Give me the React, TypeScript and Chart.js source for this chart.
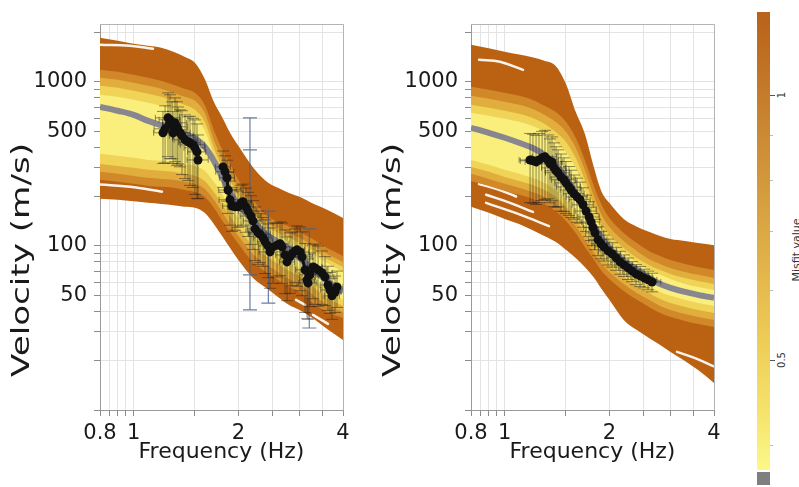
import React, { useEffect, useRef } from "react";
import { Chart, registerables } from "chart.js";

Chart.register(...registerables);

// ---------- axes ----------
const FREQ = [0.8, 0.9, 1.0, 1.1, 1.2, 1.3, 1.4, 1.5, 1.6, 1.7, 1.8, 1.9, 2.0, 2.2, 2.4, 2.6, 2.8, 3.0, 3.3, 3.6, 4.0];
const X_MIN = 0.8;
const X_MAX = 4;
const Y_MIN = 10;
const Y_MAX = 2250;
const X_TICKS = [0.8, 0.85, 0.9, 0.95, 1, 1.5, 2, 2.5, 3, 3.5, 4];
const X_LABELS = [0.8, 1, 2, 4];
const Y_TICKS = [10, 20, 30, 40, 50, 60, 70, 80, 90, 100, 200, 300, 400, 500, 600, 700, 800, 900, 1000, 2000];
const Y_LABELS = [50, 100, 500, 1000];
const X_TITLE = "Frequency (Hz)";
const Y_TITLE = "Velocity (m/s)";
const CB_TITLE = "Misfit value";
const CB_MIN = 0.375;
const CB_MAX = 1.243;
const CB_LABELS = [0.5, 1];
const CB_MINOR = [0.4, 0.6, 0.7, 0.8, 0.9];

// ---------- colours ----------
const C_BROWN = "#bb6212";
const C_ORANGE = "#d08828";
const C_GOLD = "#e1ad3d";
const C_YELLOW = "#efd457";
const C_LIGHT = "#faee7c";
const C_MEDIAN = "#88878f";

// ---------- left panel ----------
const L_EDGE_HI = [1854, 1778, 1705, 1658, 1611, 1524, 1420, 1305, 1043, 755, 603, 482, 407, 303, 249, 226, 210, 199, 180, 166, 148];
const L_ORANGE_HI = [1184, 1151, 1103, 1058, 1014, 959, 907, 857, 724, 509, 385, 312, 253, 191, 155, 140, 131, 122, 109, 97.2, 86.9];
const L_GOLD_HI = [1058, 1028, 986, 945, 907, 857, 810, 766, 647, 443, 334, 271, 226, 173, 142, 129, 120, 112, 100, 89.4, 79.9];
const L_YELLOW_HI = [945, 919, 881, 845, 810, 766, 724, 675, 570, 396, 299, 246, 205, 161, 132, 120, 112, 104, 93.2, 83.3, 74.5];
const L_LIGHT_HI = [833, 810, 777, 745, 714, 675, 638, 603, 509, 359, 279, 229, 191, 150, 125, 113, 106, 97.2, 88.1, 78.8, 69.4];
const L_LIGHT_LO = [364, 354, 344, 334, 330, 325, 316, 307, 287, 246, 205, 173, 148, 115, 100, 89.4, 79.9, 73.4, 62.1, 53.9, 46.9];
const L_YELLOW_LO = [316, 307, 299, 291, 287, 283, 275, 267, 249, 213, 178, 150, 129, 100, 86.9, 77.7, 70.4, 65.7, 55.5, 48.2, 43.1];
const L_GOLD_LO = [283, 275, 267, 260, 256, 253, 246, 239, 223, 191, 159, 134, 115, 89.4, 77.7, 69.4, 62.9, 58.7, 49.6, 43.7, 39.6];
const L_ORANGE_LO = [253, 246, 239, 232, 229, 226, 219, 213, 199, 171, 142, 120, 103, 79.9, 69.4, 62.1, 56.2, 52.4, 44.3, 39.6, 36.4];
const L_EDGE_LO = [194, 191, 187, 183, 180, 177, 173, 171, 159, 136, 114, 96, 82, 64, 55.5, 48.9, 43.7, 40.7, 35.9, 31.2, 26.7];
const L_MEDIAN = [704, 666, 629, 578, 543, 509, 482, 452, 402, 330, 260, 210, 178, 144, 118, 106, 96, 84.5, 71.4, 61.2, 52.4];

const L_STREAK_A_F = [0.8, 0.976, 1.136];
const L_STREAK_A_V = [1681, 1658, 1589];
const L_STREAK_B_F = [0.8, 0.976, 1.206];
const L_STREAK_B_V = [237, 229, 214];
const L_STREAK_C_F = [2.931, 3.111];
const L_STREAK_C_V = [46.9, 43.7];
const L_STREAK_D_F = [3.28, 3.621];
const L_STREAK_D_V = [38, 33.5];

const L_OBS1_F = [1.214, 1.231, 1.255, 1.272, 1.289, 1.298, 1.315, 1.332, 1.341, 1.359, 1.377, 1.405, 1.433, 1.452, 1.481, 1.5, 1.521, 1.531];
const L_OBS1_V = [489, 517, 603, 587, 547, 489, 562, 532, 509, 489, 469, 443, 431, 425, 413, 396, 374, 334];
const L_OBS1_ERR = [0.35, 0.38, 0.42, 0.42, 0.38, 0.35, 0.42, 0.42, 0.38, 0.38, 0.42, 0.42, 0.42, 0.45, 0.45, 0.48, 0.48, 0.42];
const L_OBS1_FERR = [0.06, 0.07, 0.08, 0.07, 0.06, 0.07, 0.08, 0.07, 0.06, 0.07, 0.08, 0.07, 0.06, 0.07, 0.08, 0.07, 0.06, 0.07];

const L_OBS2_F = [1.807, 1.831, 1.856, 1.868, 1.893, 1.918, 1.956, 1.996, 2.036, 2.063, 2.104, 2.133, 2.175, 2.204, 2.234, 2.279, 2.309, 2.356, 2.387, 2.435, 2.467, 2.517, 2.584, 2.636, 2.671, 2.725, 2.761, 2.817, 2.854, 2.911, 2.95, 3.01, 3.05, 3.111, 3.152, 3.173, 3.215, 3.28, 3.324, 3.391, 3.481, 3.551, 3.621, 3.67, 3.719, 3.794, 3.844];
const L_OBS2_V = [303, 283, 260, 219, 191, 175, 173, 173, 183, 186, 173, 163, 152, 142, 127, 120, 118, 112, 106, 100, 91.9, 98.6, 101, 103, 98.6, 88.1, 79.9, 85.7, 89.4, 93.2, 94.6, 91.9, 85.7, 71.4, 62.1, 59.5, 66.6, 74.5, 73.4, 71.4, 68.5, 64.7, 57.8, 53.9, 49.6, 52.4, 56.2];
const L_OBS2_ERR = [0.25, 0.25, 0.28, 0.28, 0.3, 0.3, 0.28, 0.25, 0.28, 0.28, 0.3, 0.3, 0.33, 0.33, 0.36, 0.36, 0.33, 0.33, 0.36, 0.36, 0.4, 0.4, 0.36, 0.36, 0.4, 0.42, 0.42, 0.4, 0.36, 0.36, 0.4, 0.42, 0.42, 0.45, 0.42, 0.4, 0.36, 0.36, 0.4, 0.4, 0.36, 0.33, 0.3, 0.28, 0.28, 0.25, 0.25];
const L_OBS2_FERR = [0.05, 0.06, 0.05, 0.06, 0.07, 0.06, 0.05, 0.06, 0.07, 0.06, 0.05, 0.06, 0.07, 0.06, 0.05, 0.06, 0.07, 0.06, 0.05, 0.06, 0.07, 0.06, 0.05, 0.06, 0.07, 0.06, 0.05, 0.06, 0.07, 0.06, 0.05, 0.06, 0.07, 0.06, 0.05, 0.06, 0.07, 0.06, 0.05, 0.06, 0.07, 0.06, 0.05, 0.06, 0.05, 0.04, 0.04];

const L_WIDE_F = [2.16, 2.16, 2.44, 3.2];
const L_WIDE_LO = [40.7, 66.6, 44.8, 31.6];
const L_WIDE_HI = [603, 385, 163, 127];

// ---------- right panel ----------
const R_EDGE_HI = [1681, 1600, 1526, 1465, 1411, 1343, 1252, 972, 656, 482, 308, 214, 183, 146, 131, 122, 115, 110, 107, 104, 101];
const R_ORANGE_HI = [932, 894, 857, 821, 777, 714, 656, 570, 456, 334, 236, 178, 148, 120, 104, 93.2, 86.9, 82.1, 77.7, 74.5, 71.4];
const R_GOLD_HI = [821, 788, 755, 724, 685, 629, 570, 496, 396, 291, 205, 155, 131, 107, 93.2, 83.3, 77.7, 73.4, 69.4, 66.6, 63.8];
const R_YELLOW_HI = [724, 694, 666, 638, 603, 555, 496, 431, 344, 253, 180, 136, 117, 97.2, 84.5, 76.6, 71.4, 67.5, 63.8, 61.2, 58.6];
const R_LIGHT_HI = [647, 620, 595, 570, 539, 496, 431, 374, 299, 219, 159, 123, 107, 90.7, 78.8, 71.4, 66.6, 62.9, 58.6, 56.2, 53.9];
const R_LIGHT_LO = [334, 312, 291, 275, 260, 242, 219, 191, 161, 132, 112, 94.6, 84.5, 71.4, 62.9, 57.0, 52.4, 49.6, 46.9, 44.9, 43.1];
const R_YELLOW_LO = [303, 283, 263, 249, 236, 219, 199, 173, 146, 120, 101, 85.7, 76.6, 64.7, 57.0, 51.7, 47.5, 44.9, 42.5, 40.7, 39.0];
const R_GOLD_LO = [275, 256, 239, 226, 213, 199, 180, 157, 132, 109, 91.9, 77.7, 69.4, 58.6, 51.7, 46.9, 43.1, 40.7, 38.5, 36.9, 35.4];
const R_ORANGE_LO = [249, 232, 216, 205, 194, 180, 163, 142, 120, 98.6, 83.3, 70.4, 62.9, 53.2, 46.9, 42.5, 39.0, 36.9, 34.9, 33.4, 32.1];
const R_EDGE_LO = [173, 159, 146, 136, 125, 115, 106, 94.6, 84.5, 74.5, 64.7, 54.7, 46.9, 35.4, 30.7, 27.5, 24.9, 22.6, 19.9, 17.5, 14.6];
const R_MEDIAN = [524, 489, 456, 425, 396, 359, 312, 260, 210, 166, 134, 112, 97.2, 81.0, 71.4, 63.8, 58.6, 55.5, 52.4, 50.3, 48.2];

const R_STREAK_A_F = [0.844, 0.969, 1.129];
const R_STREAK_A_V = [1362, 1324, 1183];
const R_STREAK_B_F = [0.844, 0.95, 1.078];
const R_STREAK_B_V = [238, 222, 200];
const R_STREAK_C_F = [0.884, 1.036, 1.206];
const R_STREAK_C_V = [205, 183, 161];
const R_STREAK_D_F = [0.884, 1.107, 1.341];
const R_STREAK_D_V = [183, 155, 132];
const R_STREAK_E_F = [3.131, 3.528, 3.98];
const R_STREAK_E_V = [22.6, 20.7, 18.5];

const R_OBS_F = [1.183, 1.206, 1.231, 1.255, 1.281, 1.306, 1.332, 1.35, 1.368, 1.387, 1.405, 1.424, 1.452, 1.481, 1.5, 1.531, 1.552, 1.583, 1.615, 1.647, 1.68, 1.714, 1.748, 1.771, 1.795, 1.819, 1.856, 1.893, 1.93, 1.983, 2.036, 2.091, 2.147, 2.204, 2.263, 2.324, 2.387, 2.451, 2.517, 2.584, 2.653];
const R_OBS_V = [334, 330, 325, 334, 344, 349, 334, 316, 325, 299, 287, 279, 263, 253, 242, 229, 219, 208, 199, 191, 178, 163, 150, 140, 129, 120, 109, 103, 98.6, 93.2, 89.4, 84.5, 79.9, 76.6, 73.4, 70.4, 67.5, 65.7, 63.8, 62.1, 60.3];
const R_OBS_ERR = [0.45, 0.45, 0.45, 0.45, 0.45, 0.45, 0.42, 0.42, 0.42, 0.42, 0.4, 0.38, 0.38, 0.36, 0.35, 0.33, 0.32, 0.3, 0.3, 0.28, 0.27, 0.25, 0.24, 0.23, 0.22, 0.21, 0.2, 0.19, 0.18, 0.18, 0.17, 0.16, 0.16, 0.15, 0.15, 0.14, 0.14, 0.14, 0.13, 0.13, 0.13];
const R_OBS_FERR = [0.07, 0.08, 0.07, 0.08, 0.07, 0.08, 0.07, 0.08, 0.07, 0.08, 0.07, 0.08, 0.07, 0.08, 0.07, 0.08, 0.07, 0.07, 0.07, 0.07, 0.07, 0.07, 0.07, 0.06, 0.06, 0.06, 0.06, 0.06, 0.06, 0.06, 0.06, 0.06, 0.06, 0.06, 0.06, 0.06, 0.06, 0.06, 0.06, 0.06, 0.06];

// ---------- panel descriptions ----------
type Series = { f: number[]; v: number[] };
type Obs = Series & { err: number[]; ferr: number[]; wide?: { f: number[]; lo: number[]; hi: number[] } };
type Panel = {
  bands: { hi: number[]; lo: number[]; color: string }[];
  median: number[];
  streaks: Series[];
  obs: Obs[];
};

const LEFT: Panel = {
  bands: [
    { hi: L_EDGE_HI, lo: L_EDGE_LO, color: C_BROWN },
    { hi: L_ORANGE_HI, lo: L_ORANGE_LO, color: C_ORANGE },
    { hi: L_GOLD_HI, lo: L_GOLD_LO, color: C_GOLD },
    { hi: L_YELLOW_HI, lo: L_YELLOW_LO, color: C_YELLOW },
    { hi: L_LIGHT_HI, lo: L_LIGHT_LO, color: C_LIGHT },
  ],
  median: L_MEDIAN,
  streaks: [
    { f: L_STREAK_A_F, v: L_STREAK_A_V },
    { f: L_STREAK_B_F, v: L_STREAK_B_V },
    { f: L_STREAK_C_F, v: L_STREAK_C_V },
    { f: L_STREAK_D_F, v: L_STREAK_D_V },
  ],
  obs: [
    { f: L_OBS1_F, v: L_OBS1_V, err: L_OBS1_ERR, ferr: L_OBS1_FERR },
    { f: L_OBS2_F, v: L_OBS2_V, err: L_OBS2_ERR, ferr: L_OBS2_FERR, wide: { f: L_WIDE_F, lo: L_WIDE_LO, hi: L_WIDE_HI } },
  ],
};

const RIGHT: Panel = {
  bands: [
    { hi: R_EDGE_HI, lo: R_EDGE_LO, color: C_BROWN },
    { hi: R_ORANGE_HI, lo: R_ORANGE_LO, color: C_ORANGE },
    { hi: R_GOLD_HI, lo: R_GOLD_LO, color: C_GOLD },
    { hi: R_YELLOW_HI, lo: R_YELLOW_LO, color: C_YELLOW },
    { hi: R_LIGHT_HI, lo: R_LIGHT_LO, color: C_LIGHT },
  ],
  median: R_MEDIAN,
  streaks: [
    { f: R_STREAK_A_F, v: R_STREAK_A_V },
    { f: R_STREAK_B_F, v: R_STREAK_B_V },
    { f: R_STREAK_C_F, v: R_STREAK_C_V },
    { f: R_STREAK_D_F, v: R_STREAK_D_V },
    { f: R_STREAK_E_F, v: R_STREAK_E_V },
  ],
  obs: [{ f: R_OBS_F, v: R_OBS_V, err: R_OBS_ERR, ferr: R_OBS_FERR }],
};

const pts = (f: number[], v: number[]) => f.map((x, i) => ({ x, y: v[i] }));

// ---------- plugins ----------
const errorBarPlugin = {
  id: "errorBars",
  beforeDatasetDraw(chart: any, args: any) {
    const ds: any = chart.data.datasets[args.index];
    if (!ds.errRel) return;
    const { ctx, chartArea: a } = chart;
    const xs = chart.scales.x;
    const ys = chart.scales.y;
    ctx.save();
    ctx.beginPath();
    ctx.rect(a.left, a.top, a.right - a.left, a.bottom - a.top);
    ctx.clip();
    if (ds.wide) {
      ctx.strokeStyle = "rgba(70,95,135,0.8)";
      ctx.lineWidth = 1.2;
      ctx.beginPath();
      ds.wide.f.forEach((f: number, i: number) => {
        const x = xs.getPixelForValue(f);
        const yt = ys.getPixelForValue(ds.wide.hi[i]);
        const yb = ys.getPixelForValue(ds.wide.lo[i]);
        ctx.moveTo(x, yt);
        ctx.lineTo(x, yb);
        ctx.moveTo(x - 7, yt);
        ctx.lineTo(x + 7, yt);
        ctx.moveTo(x - 7, yb);
        ctx.lineTo(x + 7, yb);
      });
      ctx.stroke();
    }
    ctx.strokeStyle = "rgba(30,30,30,0.55)";
    ctx.lineWidth = 0.9;
    ctx.beginPath();
    ds.data.forEach((p: any, i: number) => {
      const x = xs.getPixelForValue(p.x);
      const y = ys.getPixelForValue(p.y);
      const r = ds.errRel[i];
      const fr = ds.errFreq[i];
      const yt = ys.getPixelForValue(p.y * (1 + r));
      const yb = ys.getPixelForValue(p.y * (1 - r));
      const xl = xs.getPixelForValue(p.x * (1 - fr));
      const xr = xs.getPixelForValue(p.x * (1 + fr));
      ctx.moveTo(x, yt);
      ctx.lineTo(x, yb);
      ctx.moveTo(x - 6, yt);
      ctx.lineTo(x + 6, yt);
      ctx.moveTo(x - 6, yb);
      ctx.lineTo(x + 6, yb);
      ctx.moveTo(xl, y);
      ctx.lineTo(xr, y);
      ctx.moveTo(xl, y - 3);
      ctx.lineTo(xl, y + 3);
      ctx.moveTo(xr, y - 3);
      ctx.lineTo(xr, y + 3);
    });
    ctx.stroke();
    ctx.restore();
  },
};

const framePlugin = {
  id: "frame",
  afterDatasetsDraw(chart: any) {
    const { ctx, chartArea: a } = chart;
    ctx.save();
    ctx.strokeStyle = "#b4b4b4";
    ctx.lineWidth = 1;
    ctx.beginPath();
    ctx.moveTo(a.left, a.top + 0.5);
    ctx.lineTo(a.right + 0.5, a.top + 0.5);
    ctx.lineTo(a.right + 0.5, a.bottom);
    ctx.stroke();
    ctx.restore();
  },
};

const yTitlePlugin = {
  id: "yTitle",
  afterDraw(chart: any) {
    const ctx = chart.ctx;
    ctx.save();
    ctx.font = '25px "DejaVu Sans"';
    const w = ctx.measureText(Y_TITLE).width;
    ctx.translate(22, 260);
    ctx.rotate(-Math.PI / 2);
    ctx.scale(234 / w, 1);
    ctx.fillStyle = "#1a1a1a";
    ctx.textAlign = "center";
    ctx.textBaseline = "middle";
    ctx.fillText(Y_TITLE, 0, 0);
    ctx.restore();
  },
};

function buildConfig(panel: Panel): any {
  const datasets: any[] = [];
  const hidden = {
    pointRadius: 0,
    pointHoverRadius: 0,
    borderWidth: 0,
    borderColor: "rgba(0,0,0,0)",
    cubicInterpolationMode: "monotone",
  };
  panel.bands.forEach((b, k) => {
    const order = 100 - k * 2;
    const hiIndex = datasets.length;
    datasets.push({ ...hidden, label: `band${k}hi`, data: pts(FREQ, b.hi), fill: hiIndex + 1, backgroundColor: b.color, order });
    datasets.push({ ...hidden, label: `band${k}lo`, data: pts(FREQ, b.lo), fill: false, order });
    if (k === 0) {
      panel.streaks.forEach((s, j) =>
        datasets.push({
          label: `streak${j}`,
          data: pts(s.f, s.v),
          borderColor: "rgba(255,255,255,0.92)",
          borderWidth: 2.5,
          borderCapStyle: "round",
          pointRadius: 0,
          fill: false,
          tension: 0.4,
          order: 99,
        })
      );
    }
  });
  datasets.push({
    label: "median",
    data: pts(FREQ, panel.median),
    borderColor: C_MEDIAN,
    borderWidth: 6,
    pointRadius: 0,
    fill: false,
    cubicInterpolationMode: "monotone",
    order: 5,
  });
  panel.obs.forEach((o, j) =>
    datasets.push({
      label: `obs${j}`,
      data: pts(o.f, o.v),
      borderColor: "#111",
      borderWidth: 3,
      pointRadius: 4.5,
      pointBackgroundColor: "#111",
      pointBorderColor: "#111",
      pointBorderWidth: 0,
      fill: false,
      tension: 0,
      order: 1,
      errRel: o.err,
      errFreq: o.ferr,
      wide: o.wide,
    })
  );

  const tickFont = { family: "DejaVu Sans", size: 21 };
  return {
    type: "line",
    data: { datasets },
    options: {
      animation: false,
      responsive: false,
      devicePixelRatio: 1,
      events: [],
      layout: { padding: { left: 0, right: 17, top: 24, bottom: 0 } },
      plugins: { legend: { display: false }, tooltip: { enabled: false } },
      scales: {
        x: {
          type: "logarithmic",
          min: X_MIN,
          max: X_MAX,
          afterBuildTicks: (s: any) => {
            s.ticks = X_TICKS.map((v) => ({ value: v }));
          },
          afterFit: (s: any) => {
            s.height = 77;
            s.paddingLeft = 0;
            s.paddingRight = 0;
          },
          ticks: {
            autoSkip: false,
            maxRotation: 0,
            minRotation: 0,
            padding: 5,
            color: "#1a1a1a",
            font: tickFont,
            callback: (v: any) => (X_LABELS.includes(Number(v)) ? String(v) : ""),
          },
          grid: { color: "#e3e3e3", lineWidth: 1, drawTicks: true, tickLength: 6, tickColor: "#8c8c8c" },
          border: { display: true, color: "#9a9a9a", width: 1 },
          title: {
            display: true,
            text: X_TITLE,
            color: "#1a1a1a",
            font: { family: "DejaVu Sans", size: 22 },
            padding: { top: 0, bottom: 22 },
          },
        },
        y: {
          type: "logarithmic",
          min: Y_MIN,
          max: Y_MAX,
          afterBuildTicks: (s: any) => {
            s.ticks = Y_TICKS.map((v) => ({ value: v }));
          },
          afterFit: (s: any) => {
            s.width = 100;
            s.paddingTop = 0;
            s.paddingBottom = 0;
          },
          ticks: {
            autoSkip: false,
            padding: 7,
            color: "#1a1a1a",
            font: tickFont,
            callback: (v: any) => (Y_LABELS.includes(Number(v)) ? String(v) : ""),
          },
          grid: { color: "#e3e3e3", lineWidth: 1, drawTicks: true, tickLength: 6, tickColor: "#8c8c8c" },
          border: { display: true, color: "#9a9a9a", width: 1 },
          title: { display: false },
        },
      },
    },
    plugins: [errorBarPlugin, framePlugin, yTitlePlugin],
  };
}

function PanelChart({ panel, left }: { panel: Panel; left: number }) {
  const ref = useRef<HTMLCanvasElement | null>(null);
  useEffect(() => {
    if (!ref.current) return;
    const chart = new Chart(ref.current, buildConfig(panel));
    return () => chart.destroy();
  }, [panel]);
  return (
    <div style={{ position: "absolute", left, top: 0, width: 360, height: 487 }}>
      <canvas ref={ref} width={360} height={487} style={{ display: "block", width: 360, height: 487 }} />
    </div>
  );
}

// ---------- colour bar ----------
const CB_TOP = 12;
const CB_HEIGHT = 458;
const cbY = (v: number) =>
  CB_TOP + ((Math.log10(CB_MAX) - Math.log10(v)) / (Math.log10(CB_MAX) - Math.log10(CB_MIN))) * CB_HEIGHT;

function ColorBar() {
  const rot: React.CSSProperties = {
    position: "absolute",
    transform: "rotate(-90deg)",
    transformOrigin: "center center",
    fontFamily: "DejaVu Sans",
    color: "#333",
    textAlign: "center",
    whiteSpace: "nowrap",
  };
  return (
    <>
      <div
        style={{
          position: "absolute",
          left: 757,
          top: CB_TOP,
          width: 13,
          height: CB_HEIGHT,
          background:
            "linear-gradient(to top, #fbf88a 0%, #f6e46c 12%, #ecca56 30%, #dfae47 48%, #d39a3c 62%, #c98532 76%, #bf6f22 90%, #b9621a 100%)",
        }}
      />
      <div style={{ position: "absolute", left: 757, top: CB_TOP + CB_HEIGHT + 2, width: 13, height: 13, background: "#7f7f7f" }} />
      {CB_LABELS.map((v) => (
        <React.Fragment key={v}>
          <div style={{ position: "absolute", left: 770, top: cbY(v), width: 5, height: 1, background: "#555" }} />
          <div style={{ ...rot, left: 762, top: cbY(v) - 7, width: 40, height: 14, fontSize: 10, lineHeight: "14px" }}>{String(v)}</div>
        </React.Fragment>
      ))}
      {CB_MINOR.map((v) => (
        <div key={v} style={{ position: "absolute", left: 770, top: cbY(v), width: 3, height: 1, background: "#bbb" }} />
      ))}
      <div style={{ ...rot, left: 747, top: 243, width: 100, height: 14, fontSize: 11, lineHeight: "14px" }}>{CB_TITLE}</div>
    </>
  );
}

export default function App() {
  return (
    <div
      style={{
        position: "fixed",
        left: 0,
        top: 0,
        width: 799,
        height: 487,
        overflow: "hidden",
        background: "#ffffff",
      }}
    >
      <PanelChart panel={LEFT} left={0} />
      <PanelChart panel={RIGHT} left={371} />
      <ColorBar />
    </div>
  );
}
